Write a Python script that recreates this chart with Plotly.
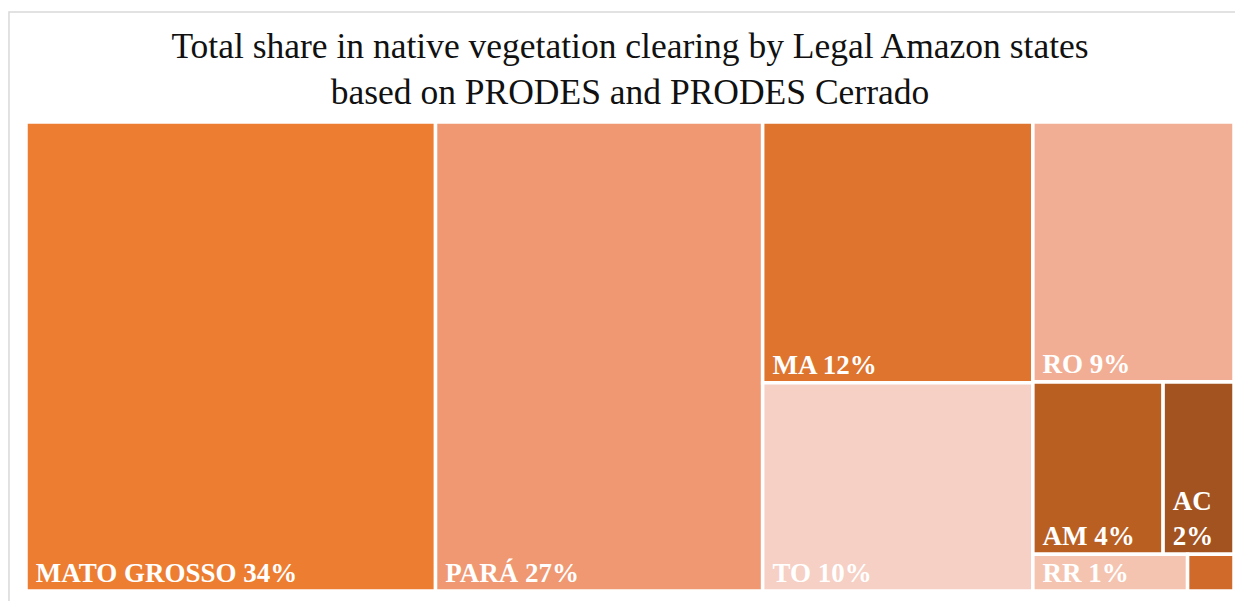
import plotly.graph_objects as go

# ---- data (share of native vegetation clearing, %) ----
states = ["MATO GROSSO", "PARÁ", "MA", "TO", "RO", "AM", "AC", "RR", "AP"]
shares = [33.8, 27.0, 12.4, 9.9, 9.2, 3.95, 2.15, 1.0, 0.3]
# layout grouping (columns / rows of the tiled map)
groups = ["", "", "C3", "C3", "C4", "C4b", "C4b", "C4c", "C4c"]
group_ids = ["C3", "C4", "C4b", "C4c"]
group_parents = ["", "", "C4", "C4"]
colors = ["#ED7D31", "#EF9872", "#DE742D", "#F6D0C4", "#F2AE94",
          "#BA5F22", "#A3531F", "#F5C4B1", "#D06A2A"]
NB = "\u00a0"
label_formats = [NB + "%{label} %{value:.0f}%"] * 8 + [""]
label_formats[6] = NB + "%{label}<br>" + NB + "%{value:.0f}%"

ids = list(states) + group_ids
labels = list(states) + ["", "", "", ""]
parents = list(groups) + group_parents
values = list(shares) + [0, 0, 0, 0]
marker_colors = list(colors) + ["white"] * 4
texttemplates = list(label_formats) + [""] * 4

fig = go.Figure(go.Treemap(
    ids=ids,
    labels=labels,
    parents=parents,
    values=values,
    branchvalues="remainder",
    sort=False,
    tiling=dict(packing="slice-dice", pad=0),
    marker=dict(colors=marker_colors,
                line=dict(color="white", width=3.5),
                pad=dict(t=0, l=0, r=0, b=0)),
    texttemplate=texttemplates,
    textposition="bottom left",
    textfont=dict(family="Liberation Serif", size=27, color="white", weight="bold"),
    hoverinfo="label+value",
    pathbar=dict(visible=False),
    root=dict(color="white"),
))

fig.update_layout(
    width=1235, height=593,
    margin=dict(l=18, r=9, t=114, b=10),
    paper_bgcolor="white",
    plot_bgcolor="white",
    title=dict(
        text="Total share in native vegetation clearing by Legal Amazon states<br>based on PRODES and PRODES Cerrado",
        x=0.5, xref="paper", xanchor="center",
        y=0.916, yref="container", yanchor="top",
        font=dict(family="Liberation Serif", size=35.5, color="#111111"),
    ),
    shapes=[dict(type="rect", xref="paper", yref="paper",
                 x0=-0.0141, x1=1.05, y0=-0.2, y1=1.2345,
                 line=dict(color="#d9d9d9", width=1.5),
                 fillcolor="rgba(0,0,0,0)", layer="below")],
)

fig.write_html("out.html")
